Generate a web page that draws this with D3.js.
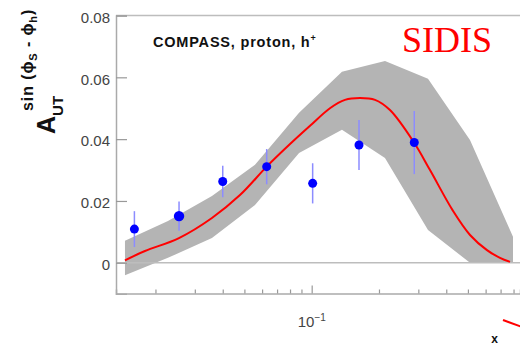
<!DOCTYPE html>
<html><head><meta charset="utf-8">
<script src="https://cdn.jsdelivr.net/npm/d3@7"></script>
<style>html,body{margin:0;padding:0;background:#fff;}svg{display:block;}</style>
</head><body>
<svg id="c" width="520" height="346"></svg>
<script>
// ---- data ----
const pointX   = [0.0161, 0.0255, 0.0400, 0.0629, 0.1010, 0.1628, 0.2877];
const pointY   = [0.0109, 0.0151, 0.0263, 0.0311, 0.0257, 0.0381, 0.0389];
const pointErr = [0.0058, 0.0047, 0.0051, 0.0057, 0.0065, 0.0081, 0.0102];

const bandX     = [0.01461, 0.02275, 0.03579, 0.05577, 0.0878, 0.1366, 0.2128, 0.3314, 0.5108, 0.7954];
const bandUpper = [0.0071, 0.0135, 0.0216, 0.0317, 0.0485, 0.0618, 0.0653, 0.0595, 0.0397, 0.0084];
const bandLower = [-0.0040, 0.0016, 0.0080, 0.0187, 0.0355, 0.0430, 0.0339, 0.0106, 0.0, 0.0];

const curveX = [0.01461, 0.01795, 0.02548, 0.03579, 0.04777, 0.06291, 0.0800, 0.0983, 0.1207, 0.1409, 0.1645, 0.192, 0.224, 0.2869, 0.3383, 0.4288, 0.5109, 0.6085, 0.6958, 0.7713];
const curveY = [0.0008, 0.0038, 0.0080, 0.0145, 0.0219, 0.0311, 0.0384, 0.0443, 0.0500, 0.0527, 0.0533, 0.0527, 0.0494, 0.0389, 0.0300, 0.0168, 0.0090, 0.0041, 0.0016, 0.0003];

const yTicks = [0, 0.02, 0.04, 0.06, 0.08];
const xMinorTicks = [0.02,0.03,0.04,0.05,0.06,0.07,0.08,0.09,0.2,0.3,0.4,0.5,0.6,0.7,0.8];
const xMajorTicks = [0.1];

const svg = d3.select("#c");
const FONT = "'Liberation Sans', Arial, Helvetica, sans-serif";

const x = d3.scaleLog().domain([0.01332, 0.855]).range([116, 520]);
const y = d3.scaleLinear().domain([-0.01, 0.08]).range([293.7, 15.5]);

// band
const area = d3.area().x((d,i)=>x(bandX[i])).y0((d,i)=>y(bandLower[i])).y1((d,i)=>y(bandUpper[i]));
svg.append("path").datum(bandX).attr("d", area).attr("fill", "#b4b4b4");

// zero line
svg.append("line").attr("x1", 116).attr("x2", 520).attr("y1", y(0)).attr("y2", y(0))
  .attr("stroke", "#bdbdbd").attr("stroke-width", 1.5);

// frame
svg.append("line").attr("x1", 116).attr("x2", 520).attr("y1", y(0.08)).attr("y2", y(0.08))
  .attr("stroke", "#bdbdbd").attr("stroke-width", 1.5);

// y axis
const yAxis = d3.axisLeft(y).tickValues(yTicks).tickSize(-11).tickPadding(6)
  .tickFormat(d => d === 0 ? "0" : d3.format(".2f")(d));
const gy = svg.append("g").attr("transform", "translate(116,0)").call(yAxis);
gy.select(".domain").attr("stroke", "#aaa").attr("stroke-width", 1.5);
gy.selectAll(".tick line").attr("stroke", "#999").attr("stroke-width", 1.2);
gy.selectAll(".tick text").attr("font-family", FONT).attr("font-size", 15).attr("fill", "#444").attr("dy", "0.45em");

// x axis minor
const xAxisMinor = d3.axisBottom(x).tickValues(xMinorTicks).tickSize(-4).tickFormat("");
const gx = svg.append("g").attr("transform", "translate(0,293.5)").call(xAxisMinor);
gx.select(".domain").attr("stroke", "#aaa").attr("stroke-width", 1.5);
gx.selectAll(".tick line").attr("stroke", "#999").attr("stroke-width", 1.2);
const xAxisMajor = d3.axisBottom(x).tickValues(xMajorTicks).tickSize(-8).tickFormat("");
const gx2 = svg.append("g").attr("transform", "translate(0,293.5)").call(xAxisMajor);
gx2.select(".domain").remove();
gx2.selectAll(".tick line").attr("stroke", "#999").attr("stroke-width", 1.2);

// x major label 10^-1
xMajorTicks.forEach(v => {
  const t = svg.append("text").attr("x", x(v) - 14).attr("y", 327).attr("font-family", FONT)
    .attr("font-size", 15).attr("fill", "#444");
  t.append("tspan").text("10");
  t.append("tspan").attr("dy", -6).attr("font-size", 10).text("\u22121");
});

// curve
const line = d3.line().x((d,i)=>x(curveX[i])).y((d,i)=>y(curveY[i])).curve(d3.curveCatmullRom.alpha(0.5));
svg.append("path").datum(curveX).attr("d", line).attr("fill", "none").attr("stroke", "#ff0000").attr("stroke-width", 2);

// error bars + points
const pts = pointX.map((v,i)=>({x:v, y:pointY[i], e:pointErr[i]}));
svg.selectAll("line.err").data(pts).enter().append("line").attr("class","err")
  .attr("x1", d=>x(d.x)).attr("x2", d=>x(d.x)).attr("y1", d=>y(d.y+d.e)).attr("y2", d=>y(d.y-d.e))
  .attr("stroke", "#8c8cff").attr("stroke-width", 1.5);
svg.selectAll("circle.pt").data(pts).enter().append("circle").attr("class","pt")
  .attr("cx", d=>x(d.x)).attr("cy", d=>y(d.y)).attr("r", (d,i)=> i===1 ? 5.2 : 4.5).attr("fill", "#0000ff");

// title
const title = svg.append("text").attr("x", 153).attr("y", 47).attr("font-family", FONT)
  .attr("font-weight", "bold").attr("font-size", 14.5).attr("letter-spacing", 0.8).attr("fill", "#111");
title.append("tspan").text("COMPASS, proton, h");
title.append("tspan").attr("dy", -6).attr("font-size", 9).text("+");

svg.append("text").attr("x", 402).attr("y", 52).attr("font-family", "'Liberation Serif', 'Times New Roman', serif")
  .attr("font-size", 36).attr("fill", "#ff0000").text("SIDIS");

// y label
const yl = svg.append("g").attr("transform", "translate(55,134) rotate(-90)");
const t1 = yl.append("text").attr("x", 0).attr("y", 0).attr("font-family", FONT).attr("font-weight", "bold")
  .attr("font-size", 25).attr("fill", "#111");
t1.append("tspan").text("A");
t1.append("tspan").attr("dy", 8).attr("font-size", 15).text("UT");
const t2 = yl.append("text").attr("x", 23).attr("y", -22).attr("font-family", FONT).attr("font-weight", "bold")
  .attr("font-size", 16).attr("letter-spacing", 0.9).attr("fill", "#111");
t2.append("tspan").text("sin (\u03D5");
t2.append("tspan").attr("dy", 4).attr("font-size", 11).text("S");
t2.append("tspan").attr("dy", -4).text(" - \u03D5");
t2.append("tspan").attr("dy", 4).attr("font-size", 11).text("h");
t2.append("tspan").attr("dy", -4).text(")");

// x label
svg.append("text").attr("x", 494.5).attr("y", 343).attr("text-anchor", "middle").attr("font-family", FONT)
  .attr("font-weight", "bold").attr("font-size", 12).attr("fill", "#111").text("x");

// stray legend segment (cropped)
svg.append("line").attr("x1", 503).attr("y1", 320).attr("x2", 522).attr("y2", 327)
  .attr("stroke", "#ff0000").attr("stroke-width", 2);
</script>
</body></html>
